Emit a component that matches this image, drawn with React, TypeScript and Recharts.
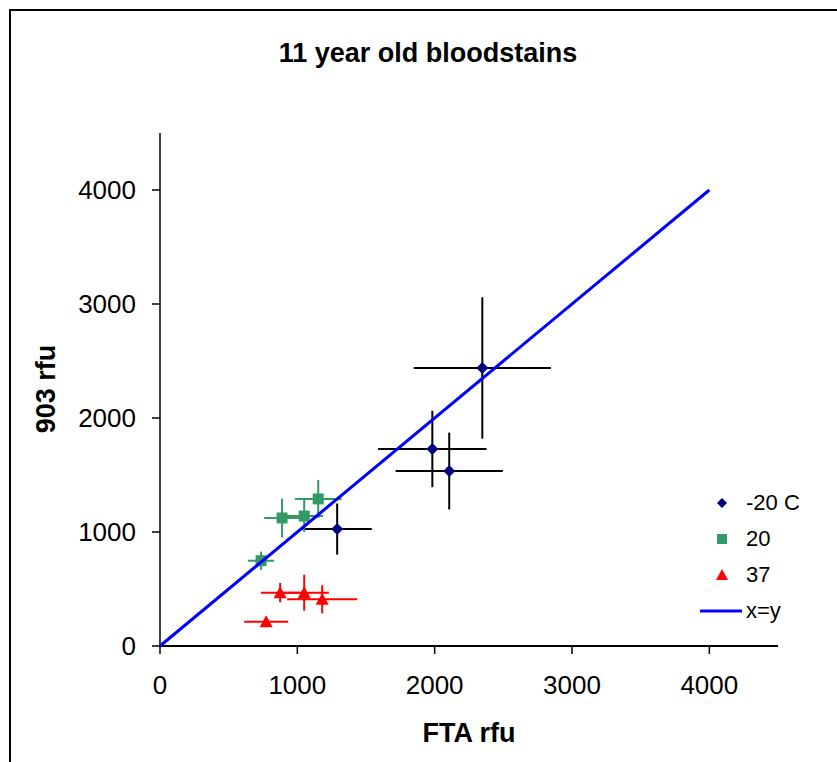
import { ScatterChart, Scatter, XAxis, YAxis, ErrorBar } from 'recharts'

const FONT = '"Liberation Sans", Arial, sans-serif'

// -20 C storage
const COLD_X = [2347, 1983, 2106, 1290]
const COLD_Y = [2439, 1728, 1535, 1026]
const COLD_X_ERR = [500, 395, 390, 252]
const COLD_Y_ERR = [620, 335, 337, 224]

// 20 C storage
const ROOM_X = [736, 889, 1050, 1152]
const ROOM_Y = [748, 1123, 1140, 1290]
const ROOM_X_ERR = [95, 130, 138, 170]
const ROOM_Y_ERR = [80, 170, 140, 167]

// 37 C storage
const WARM_X = [773, 875, 1050, 1181]
const WARM_Y = [213, 468, 468, 410]
const WARM_X_ERR = [160, 140, 180, 255]
const WARM_Y_ERR = [40, 85, 158, 123]

// x = y reference
const IDENTITY = [0, 4000]

const TICKS = [0, 1000, 2000, 3000, 4000]

const COLORS = {
  cold: '#000080',
  room: '#339966',
  warm: '#ff0000',
  line: '#0000ff',
}

function rows(xs: number[], ys: number[], ex: number[], ey: number[]) {
  return xs.map((x, i) => ({ x, y: ys[i], ex: ex[i], ey: ey[i] }))
}

const coldData = rows(COLD_X, COLD_Y, COLD_X_ERR, COLD_Y_ERR)
const roomData = rows(ROOM_X, ROOM_Y, ROOM_X_ERR, ROOM_Y_ERR)
const warmData = rows(WARM_X, WARM_Y, WARM_X_ERR, WARM_Y_ERR)
const lineData = IDENTITY.map((v) => ({ x: v, y: v }))

function Diamond({ cx, cy, r = 6, fill }: any) {
  return <path d={`M${cx},${cy - r}L${cx + r},${cy}L${cx},${cy + r}L${cx - r},${cy}Z`} fill={fill} />
}

function Square({ cx, cy, r = 5.5, fill }: any) {
  return <rect x={cx - r} y={cy - r} width={r * 2} height={r * 2} fill={fill} />
}

function Triangle({ cx, cy, r = 6.5, fill }: any) {
  return <path d={`M${cx},${cy - r}L${cx + r},${cy + r * 0.85}L${cx - r},${cy + r * 0.85}Z`} fill={fill} />
}

const LEGEND = [
  { name: '-20 C', kind: 'diamond', color: COLORS.cold },
  { name: '20', kind: 'square', color: COLORS.room },
  { name: '37', kind: 'triangle', color: COLORS.warm },
  { name: 'x=y', kind: 'line', color: COLORS.line },
]

function LegendBox() {
  return (
    <div style={{ position: 'absolute', left: 696, top: 485, fontFamily: FONT, fontSize: 22, color: '#000' }}>
      {LEGEND.map((item) => (
        <div key={item.name} style={{ display: 'flex', alignItems: 'center', height: 36 }}>
          <svg width={50} height={20} style={{ marginRight: 0 }}>
            {item.kind === 'diamond' && <Diamond cx={26} cy={10} r={5} fill={item.color} />}
            {item.kind === 'square' && <Square cx={26} cy={10} r={5} fill={item.color} />}
            {item.kind === 'triangle' && <Triangle cx={26} cy={10} r={6} fill={item.color} />}
            {item.kind === 'line' && <line x1={4} x2={46} y1={10} y2={10} stroke={item.color} strokeWidth={3} />}
          </svg>
          <span>{item.name}</span>
        </div>
      ))}
    </div>
  )
}

export default function App() {
  const tick = { fill: '#000', fontSize: 26, fontFamily: FONT }
  return (
    <div style={{ position: 'fixed', left: 0, top: 0, width: 837, height: 762, overflow: 'hidden', background: '#fff' }}>
      <div style={{ position: 'absolute', left: 9, top: 9, width: 900, height: 900, border: '2px solid #000' }} />
      <div style={{ position: 'absolute', left: 0, top: 0 }}>
        <ScatterChart width={837} height={762} margin={{ top: 133, right: 59, bottom: 66, left: 100 }}>
          <XAxis
            type="number"
            dataKey="x"
            domain={[0, 4500]}
            ticks={TICKS}
            tick={tick}
            tickSize={8}
            tickMargin={22}
            stroke="#000"
            axisLine={{ stroke: '#000', strokeWidth: 2 }}
            tickLine={{ stroke: '#000', strokeWidth: 1.5 }}
            height={50}
          />
          <YAxis
            type="number"
            dataKey="y"
            domain={[0, 4500]}
            ticks={TICKS}
            tick={tick}
            tickSize={8}
            tickMargin={16}
            stroke="#000"
            axisLine={{ stroke: '#000', strokeWidth: 1.5 }}
            tickLine={{ stroke: '#000', strokeWidth: 1.5 }}
            width={60}
          />
          <Scatter data={coldData} fill={COLORS.cold} shape={(p: any) => <Diamond {...p} fill={COLORS.cold} />} isAnimationActive={false}>
            <ErrorBar dataKey="ex" direction="x" width={0} stroke="#000" strokeWidth={2} isAnimationActive={false} />
            <ErrorBar dataKey="ey" direction="y" width={0} stroke="#000" strokeWidth={2} isAnimationActive={false} />
          </Scatter>
          <Scatter data={roomData} fill={COLORS.room} shape={(p: any) => <Square {...p} fill={COLORS.room} />} isAnimationActive={false}>
            <ErrorBar dataKey="ex" direction="x" width={0} stroke={COLORS.room} strokeWidth={2} isAnimationActive={false} />
            <ErrorBar dataKey="ey" direction="y" width={0} stroke={COLORS.room} strokeWidth={2} isAnimationActive={false} />
          </Scatter>
          <Scatter data={warmData} fill={COLORS.warm} shape={(p: any) => <Triangle {...p} fill={COLORS.warm} />} isAnimationActive={false}>
            <ErrorBar dataKey="ex" direction="x" width={0} stroke={COLORS.warm} strokeWidth={2} isAnimationActive={false} />
            <ErrorBar dataKey="ey" direction="y" width={0} stroke={COLORS.warm} strokeWidth={2} isAnimationActive={false} />
          </Scatter>
          <Scatter
            data={lineData}
            line={{ stroke: COLORS.line, strokeWidth: 3 }}
            shape={() => <g />}
            isAnimationActive={false}
          />
        </ScatterChart>
      </div>
      <svg width={837} height={762} style={{ position: 'absolute', left: 0, top: 0, pointerEvents: 'none' }}>
        <g fontFamily={FONT} fontWeight="bold" fontSize={27} fill="#000">
          <text x={428} y={62} textAnchor="middle">11 year old bloodstains</text>
          <text x={469} y={742} textAnchor="middle">FTA rfu</text>
          <text transform="translate(55,389) rotate(-90)" textAnchor="middle">903 rfu</text>
        </g>
      </svg>
      <LegendBox />
    </div>
  )
}
